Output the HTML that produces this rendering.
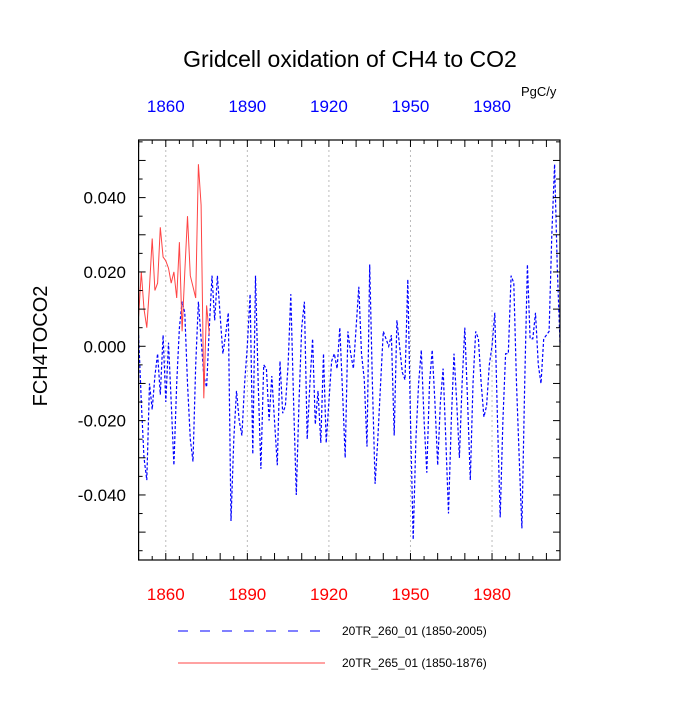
<!DOCTYPE html>
<html><head><meta charset="utf-8"><style>
body{margin:0;background:#fff;font-family:"Liberation Sans",sans-serif}
</style></head><body>
<svg id="chart" width="700" height="700" xmlns="http://www.w3.org/2000/svg" font-family="Liberation Sans, sans-serif">
<text x="350" y="67" font-size="23" text-anchor="middle">Gridcell oxidation of CH4 to CO2</text>
<text x="521" y="96" font-size="13">PgC/y</text>
<text transform="translate(47,346) rotate(-90)" font-size="20" text-anchor="middle">FCH4TOCO2</text>
<g id="grid"></g><g id="series"></g><g id="axes"></g>
<g>
<line x1="178" y1="631" x2="325" y2="631" stroke="#00f" stroke-width="1" stroke-dasharray="10,12"/>
<text x="342" y="635" font-size="12">20TR_260_01 (1850-2005)</text>
<line x1="178" y1="663" x2="325" y2="663" stroke="#f44" stroke-width="1"/>
<text x="342" y="667" font-size="12">20TR_265_01 (1850-1876)</text>
</g>
</svg>
<script>
const blueStart = 1850;
const blueValues = [0.003,-0.015,-0.030,-0.036,-0.010,-0.017,-0.008,-0.002,-0.013,0.003,-0.015,0.001,-0.015,-0.032,-0.010,0.005,0.012,0.009,-0.010,-0.025,-0.031,-0.005,0.012,0.002,-0.008,-0.011,0.005,0.019,0.007,0.019,0.008,-0.002,0.003,0.009,-0.047,-0.025,-0.012,-0.020,-0.024,-0.010,0.000,0.014,-0.029,0.019,-0.010,-0.033,-0.005,-0.006,-0.020,-0.008,-0.020,-0.032,-0.004,
-0.018,-0.016,-0.005,0.014,-0.015,-0.040,-0.015,0.005,0.012,-0.025,-0.010,0.002,-0.021,-0.012,-0.026,-0.002,-0.026,-0.015,-0.004,-0.002,-0.006,0.005,-0.012,-0.030,0.004,-0.002,-0.006,0.005,0.016,-0.002,-0.009,-0.027,0.022,-0.010,-0.037,-0.025,-0.010,0.004,0.002,0.000,0.003,-0.024,0.007,0.000,-0.007,-0.009,0.018,-0.020,-0.052,-0.025,-0.010,-0.001,-0.020,-0.034,-0.010,-0.001,-0.015,-0.032,-0.015,-0.006,-0.025,-0.045,-0.020,-0.002,-0.015,-0.030,-0.010,0.005,-0.015,-0.036,-0.010,0.004,0.002,-0.010,-0.019,-0.016,-0.005,0.000,0.009,-0.020,-0.046,-0.020,-0.002,-0.002,0.019,0.017,-0.010,-0.030,-0.049,-0.010,0.022,0.002,0.002,0.009,-0.005,-0.010,0.002,0.003,0.004,0.030,0.049,0.021,0.001];
const redStart = 1850;
const redValues = [0.008,0.020,0.010,0.005,0.016,0.029,0.015,0.017,0.032,0.024,0.023,0.021,0.017,0.020,0.013,0.028,0.004,0.020,0.035,0.019,0.016,0.013,0.049,0.038,-0.014,0.011,0.003];
const xTickYears = [1860,1890,1920,1950,1980];
const yTickValues = [0.040,0.020,0.000,-0.020,-0.040];
const yTickLabels = ["0.040","0.020","0.000","-0.020","-0.040"];

const L=138.6,R=560,T=140,B=560,X0=1850,X1=2005,Y0=-0.0575,Y1=0.0555;
const sx=yr=>L+(yr-X0)*(R-L)/(X1-X0);
const sy=v=>B-(v-Y0)*(B-T)/(Y1-Y0);
const NS="http://www.w3.org/2000/svg";
function mk(tag,parent,attrs){const e=document.createElementNS(NS,tag);for(const k in attrs)e.setAttribute(k,attrs[k]);parent.appendChild(e);return e;}
const grid=document.getElementById('grid'),series=document.getElementById('series'),axes=document.getElementById('axes');
xTickYears.forEach(yr=>{
  const g=mk('line',grid,{x1:sx(yr),x2:sx(yr),y1:T,y2:B,stroke:'#bbb','stroke-dasharray':'2,3'});
  
  
  const t1=mk('text',axes,{x:sx(yr),y:600,'font-size':17,'text-anchor':'middle',fill:'#f00'});t1.textContent=yr;
  
  
  const t2=mk('text',axes,{x:sx(yr),y:112,'font-size':17,'text-anchor':'middle',fill:'#00f'});t2.textContent=yr;
  
  
});
for(let yr=1850;yr<=2005;yr+=5){const len=(yr%10===0)?7:4;
  mk('line',axes,{x1:sx(yr),x2:sx(yr),y1:B,y2:B-len,stroke:'#000'});
  mk('line',axes,{x1:sx(yr),x2:sx(yr),y1:T,y2:T+len,stroke:'#000'});}
for(let v=-0.055;v<=0.0551;v+=0.005){const y=sy(v);const maj=Math.abs(Math.round(v*1000)%10)===0;const len=maj?7:4;
  mk('line',axes,{x1:L,x2:L+len,y1:y,y2:y,stroke:'#000'});
  mk('line',axes,{x1:R,x2:R-len,y1:y,y2:y,stroke:'#000'});}
yTickValues.forEach((v,i)=>{const t=mk('text',axes,{x:126,y:sy(v)+6,'font-size':17,'text-anchor':'end'});t.textContent=yTickLabels[i];
  
  });
const frame=mk('rect',axes,{x:L,y:T,width:R-L,height:B-T,fill:'none',stroke:'#000','stroke-width':1.2});


const bp=blueValues.map((v,i)=>sx(blueStart+i).toFixed(1)+','+sy(v).toFixed(1)).join(' ');
const bl=mk('polyline',series,{points:bp,fill:'none',stroke:'#00f','stroke-width':1.2,'stroke-dasharray':'3,2'});


const rp=redValues.map((v,i)=>sx(redStart+i).toFixed(1)+','+sy(v).toFixed(1)).join(' ');
const rl=mk('polyline',series,{points:rp,fill:'none',stroke:'#f44','stroke-width':1});


</script>
</body></html>
